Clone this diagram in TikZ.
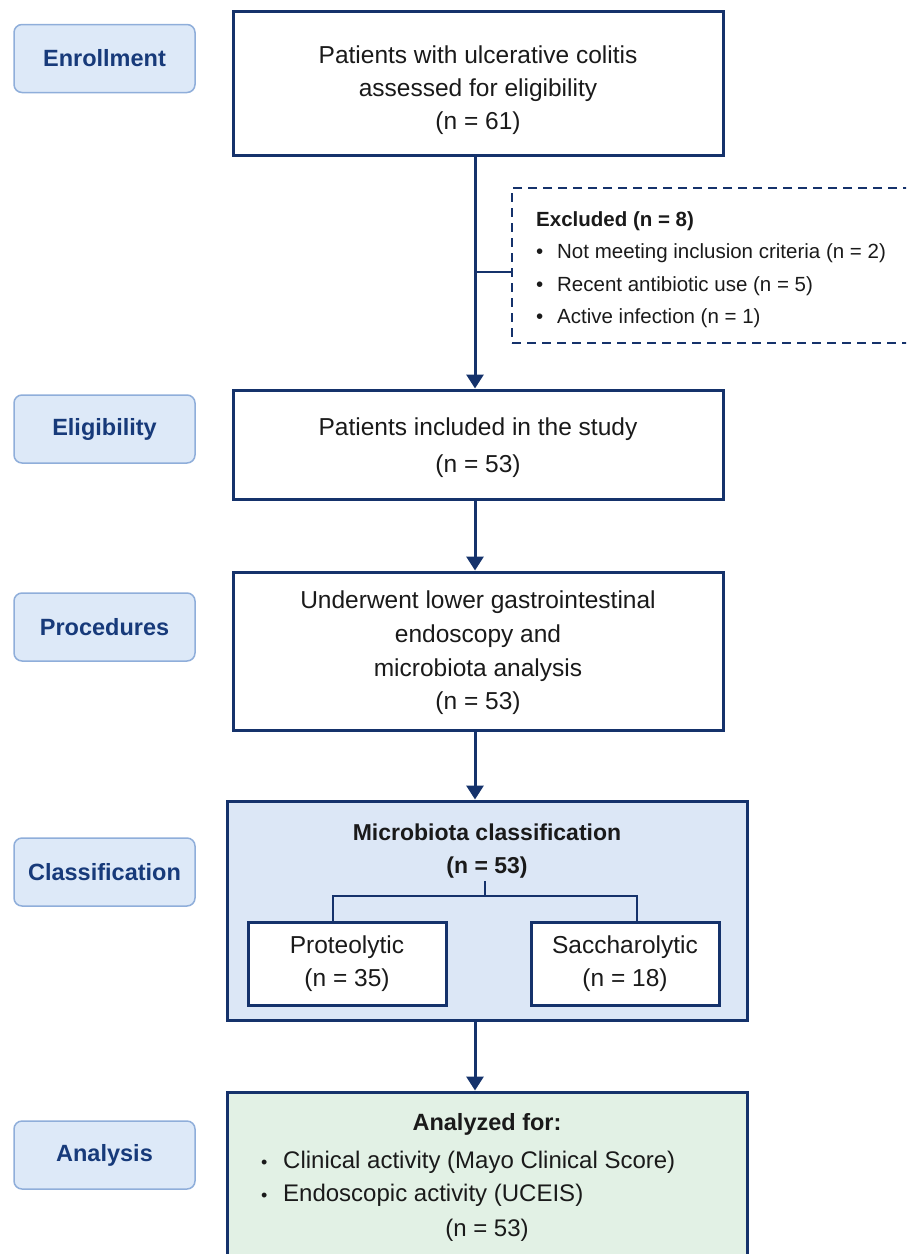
\documentclass[tikz,border=0pt]{standalone}
\usepackage{fontspec}
\setmainfont{Liberation Sans}
\usetikzlibrary{arrows.meta}
\definecolor{navy}{HTML}{15326B}
\definecolor{txt}{HTML}{1A1A1A}
\definecolor{labfill}{HTML}{DDE9F8}
\definecolor{labdraw}{HTML}{8FAEDA}
\definecolor{labtext}{HTML}{173A7A}
\definecolor{clsfill}{HTML}{DCE7F6}
\definecolor{anafill}{HTML}{E2F1E5}
\newcommand{\mfont}{\fontsize{24.5}{33}\selectfont}
\newcommand{\lfont}{\fontsize{23.5}{28}\selectfont}
\newcommand{\cfont}{\fontsize{23}{33}\selectfont}
\newcommand{\efont}{\fontsize{20.5}{32.5}\selectfont}
\begin{document}
\begin{tikzpicture}[x=1pt,y=-1pt,
  lab/.style={draw=labdraw, fill=labfill, rounded corners=8pt, line width=1.5pt,
    minimum width=181pt, minimum height=68pt, font=\lfont\bfseries, text=labtext},
  mainbox/.style={draw=navy, line width=3pt, fill=white, align=center, font=\mfont,
    text=txt, inner sep=0pt},
  bigbox/.style={draw=navy, line width=3pt, inner sep=0pt},
  exbox/.style={draw=navy, line width=2pt, dash pattern=on 9pt off 6pt, inner sep=0pt},
  conn/.style={draw=navy, line width=2.5pt},
  arr/.style={draw=navy, line width=3pt, -{Triangle[width=17pt,length=14pt]}},
  plain/.style={text=txt, inner sep=0pt}
]
\useasboundingbox (0,0) rectangle (906,1254);
\clip (0,0) rectangle (906,1254);

% stage labels
\node[lab] (l1) at (104.5,58.5) {Enrollment};
\node[lab] (l2) at (104.5,429) {Eligibility};
\node[lab] (l3) at (104.5,627) {Procedures};
\node[lab] (l4) at (104.5,872) {Classification};
\node[lab] (l5) at (104.5,1155) {Analysis};

% main boxes
\node[mainbox, minimum width=490pt, minimum height=144pt] (b1) at (478,83) {};
\node[plain, font=\mfont, align=center] (t1) at (478,90.5)
  {Patients with ulcerative colitis\\assessed for eligibility\\(n = 61)};
\node[mainbox, minimum width=490pt, minimum height=109pt] (b2) at (478,444.5) {};
\node[plain, font=\mfont, align=center] (t2) at (478,447.5)
  {Patients included in the study\\[4pt](n = 53)};
\node[mainbox, minimum width=490pt, minimum height=158pt] (b3) at (478,651) {};
\node[plain, font=\fontsize{24.5}{33.7}\selectfont, align=center] (t3) at (478,653)
  {Underwent lower gastrointestinal\\endoscopy and\\microbiota analysis\\(n = 53)};

% classification
\node[bigbox, fill=clsfill, minimum width=520pt, minimum height=219pt] (b4) at (487,910.5) {};
\node[plain, font=\cfont\bfseries, align=center, inner sep=3pt] (ct) at (487,851)
  {Microbiota classification\\(n = 53)};
\node[mainbox, minimum width=198pt, minimum height=83pt] (pro) at (347,963.5)
  {Proteolytic\\(n = 35)};
\node[mainbox, minimum width=188pt, minimum height=83pt] (sac) at (625,963.5)
  {Saccharolytic\\(n = 18)};
\coordinate (cj) at (485,896);
\coordinate (lc) at (333,896);
\coordinate (rc) at (637,896);
\draw[conn] (ct.south -| cj) -- (cj);
\draw[conn] (pro.north -| lc) -- (lc) -- (rc) -- (sac.north -| rc);

% analysis
\node[bigbox, fill=anafill, minimum width=520pt, minimum height=178pt] (b5) at (487,1181) {};
\node[plain, font=\lfont\bfseries, anchor=base] (at) at (487,1130) {Analyzed for:};
\node[plain, font=\fontsize{24}{33}\selectfont, anchor=base west] (a1) at (261,1168)
  {\makebox[22pt][l]{\fontsize{18}{18}\selectfont•}Clinical activity (Mayo Clinical Score)};
\node[plain, font=\fontsize{24}{33}\selectfont, anchor=base west] (a2) at (261,1201)
  {\makebox[22pt][l]{\fontsize{18}{18}\selectfont•}Endoscopic activity (UCEIS)};
\node[plain, font=\fontsize{24}{33}\selectfont, anchor=base] (a3) at (487,1236) {(n = 53)};

% excluded
\node[exbox, minimum width=430pt, minimum height=155pt, anchor=north west] (ex) at (511,187) {};
\node[plain, font=\efont, align=left, anchor=north west] (et) at (536,211)
  {\textbf{Excluded (n = 8)}\\
   \makebox[21pt][l]{•}Not meeting inclusion criteria (n = 2)\\
   \makebox[21pt][l]{•}Recent antibiotic use (n = 5)\\
   \makebox[21pt][l]{•}Active infection (n = 1)};
\coordinate (ax) at (475,0);
\coordinate (br) at (475,272);
\draw[conn] (br) -- (br -| ex.west);

% arrows
\draw[arr] (b1.south -| ax) -- (b2.north -| ax);
\draw[arr] (b2.south -| ax) -- (b3.north -| ax);
\draw[arr] (b3.south -| ax) -- (b4.north -| ax);
\draw[arr] (b4.south -| ax) -- (b5.north -| ax);
\end{tikzpicture}
\end{document}
